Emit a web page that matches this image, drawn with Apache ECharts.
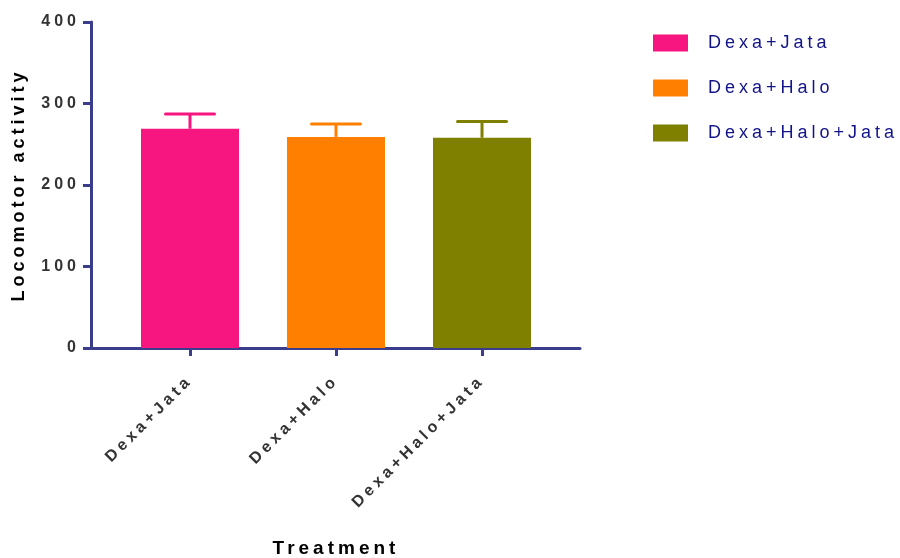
<!DOCTYPE html>
<html>
<head>
<meta charset="utf-8">
<script src="https://cdn.jsdelivr.net/npm/echarts@6/dist/echarts.min.js"></script>
<style>html,body{margin:0;padding:0;background:#fff}#c{width:900px;height:558px}</style>
</head>
<body>
<div id="c"></div>
<script>
const categories = ['Dexa+Jata', 'Dexa+Halo', 'Dexa+Halo+Jata'];
const means = [269, 259, 258];
const sems = [18, 16, 20];
const colors = ['#F7157F', '#FF8000', '#808000'];
const yMin = 0, yMax = 400, yInterval = 100;

const axisColor = '#393D8C';
const font = "'Liberation Sans', Arial, sans-serif";

// widen letter spacing of all canvas text (reference uses spaced-out lettering)
(function () {
  const proto = CanvasRenderingContext2D.prototype;
  const desc = Object.getOwnPropertyDescriptor(proto, 'font');
  if (desc && desc.set && ('letterSpacing' in proto)) {
    Object.defineProperty(proto, 'font', {
      configurable: true,
      enumerable: desc.enumerable,
      get: function () { return desc.get.call(this); },
      set: function (v) { desc.set.call(this, v); this.letterSpacing = '4px'; }
    });
  }
})();

const chart = echarts.init(document.getElementById('c'), null, {renderer: 'canvas'});

const barSeries = categories.map((c, i) => ({
  type: 'bar',
  name: c,
  xAxisIndex: 1,
  yAxisIndex: 1,
  barWidth: 98,
  barGap: '-100%',
  itemStyle: {color: colors[i]},
  data: means.map((v, j) => (j === i ? v : null))
}));

const errSeries = {
  type: 'custom',
  xAxisIndex: 1,
  yAxisIndex: 1,
  silent: true,
  z: 5,
  data: means.map((v, i) => [i, v, v + sems[i]]),
  renderItem: function (params, api) {
    const x = api.value(0);
    const lo = api.coord([x, api.value(1)]);
    const hi = api.coord([x, api.value(2)]);
    const half = 24.5;
    const col = colors[params.dataIndex];
    return {
      type: 'group',
      children: [
        {type: 'line', shape: {x1: lo[0], y1: lo[1], x2: hi[0], y2: hi[1]}, style: {stroke: col, lineWidth: 3}},
        {type: 'line', shape: {x1: hi[0] - half, y1: hi[1], x2: hi[0] + half, y2: hi[1]}, style: {stroke: col, lineWidth: 3, lineCap: 'round'}}
      ]
    };
  }
};

chart.setOption({
  animation: false,
  backgroundColor: '#fff',
  textStyle: {fontFamily: font},
  legend: {
    data: categories,
    orient: 'vertical',
    left: 653,
    top: 32,
    padding: 0,
    itemWidth: 35,
    itemHeight: 17,
    itemGap: 23,
    icon: 'rect',
    textStyle: {fontSize: 18, color: '#14148A', fontFamily: font, padding: [0, 0, 0, 15]}
  },
  grid: [
    {left: 91, right: 320, top: 22, bottom: 210, outerBoundsMode: 'none', containLabel: false},
    {left: 117, width: 438, top: 22, bottom: 210, outerBoundsMode: 'none', containLabel: false}
  ],
  xAxis: [
    {
      gridIndex: 0, type: 'value', min: 0, max: 1,
      axisLine: {show: true, lineStyle: {color: axisColor, width: 3}},
      axisTick: {show: false}, axisLabel: {show: false}, splitLine: {show: false}
    },
    {
      gridIndex: 1, type: 'category', data: categories,
      axisLine: {show: false},
      axisTick: {show: true, alignWithLabel: true, length: 8, lineStyle: {color: axisColor, width: 3}},
      axisLabel: {rotate: 45, margin: 30, fontSize: 16, fontWeight: 'bold', color: '#333', fontFamily: font},
      name: 'Treatment', nameLocation: 'middle', nameGap: 189,
      nameTextStyle: {fontSize: 19, fontWeight: 'bold', color: '#000', fontFamily: font}
    }
  ],
  yAxis: [
    {
      gridIndex: 0, type: 'value', min: yMin, max: yMax, interval: yInterval,
      axisLine: {show: true, lineStyle: {color: axisColor, width: 3}},
      axisTick: {show: true, length: 8, lineStyle: {color: axisColor, width: 3}},
      axisLabel: {margin: 11, fontSize: 16, fontWeight: 'bold', color: '#333', fontFamily: font, padding: [5, 0, 0, 0]},
      splitLine: {show: false},
      name: 'Locomotor activity', nameLocation: 'middle', nameGap: 57,
      nameTextStyle: {fontSize: 18, fontWeight: 'bold', color: '#000', fontFamily: font}
    },
    {
      gridIndex: 1, type: 'value', min: yMin, max: yMax, interval: yInterval, show: false
    }
  ],
  series: barSeries.concat([errSeries])
});
</script>
</body>
</html>
